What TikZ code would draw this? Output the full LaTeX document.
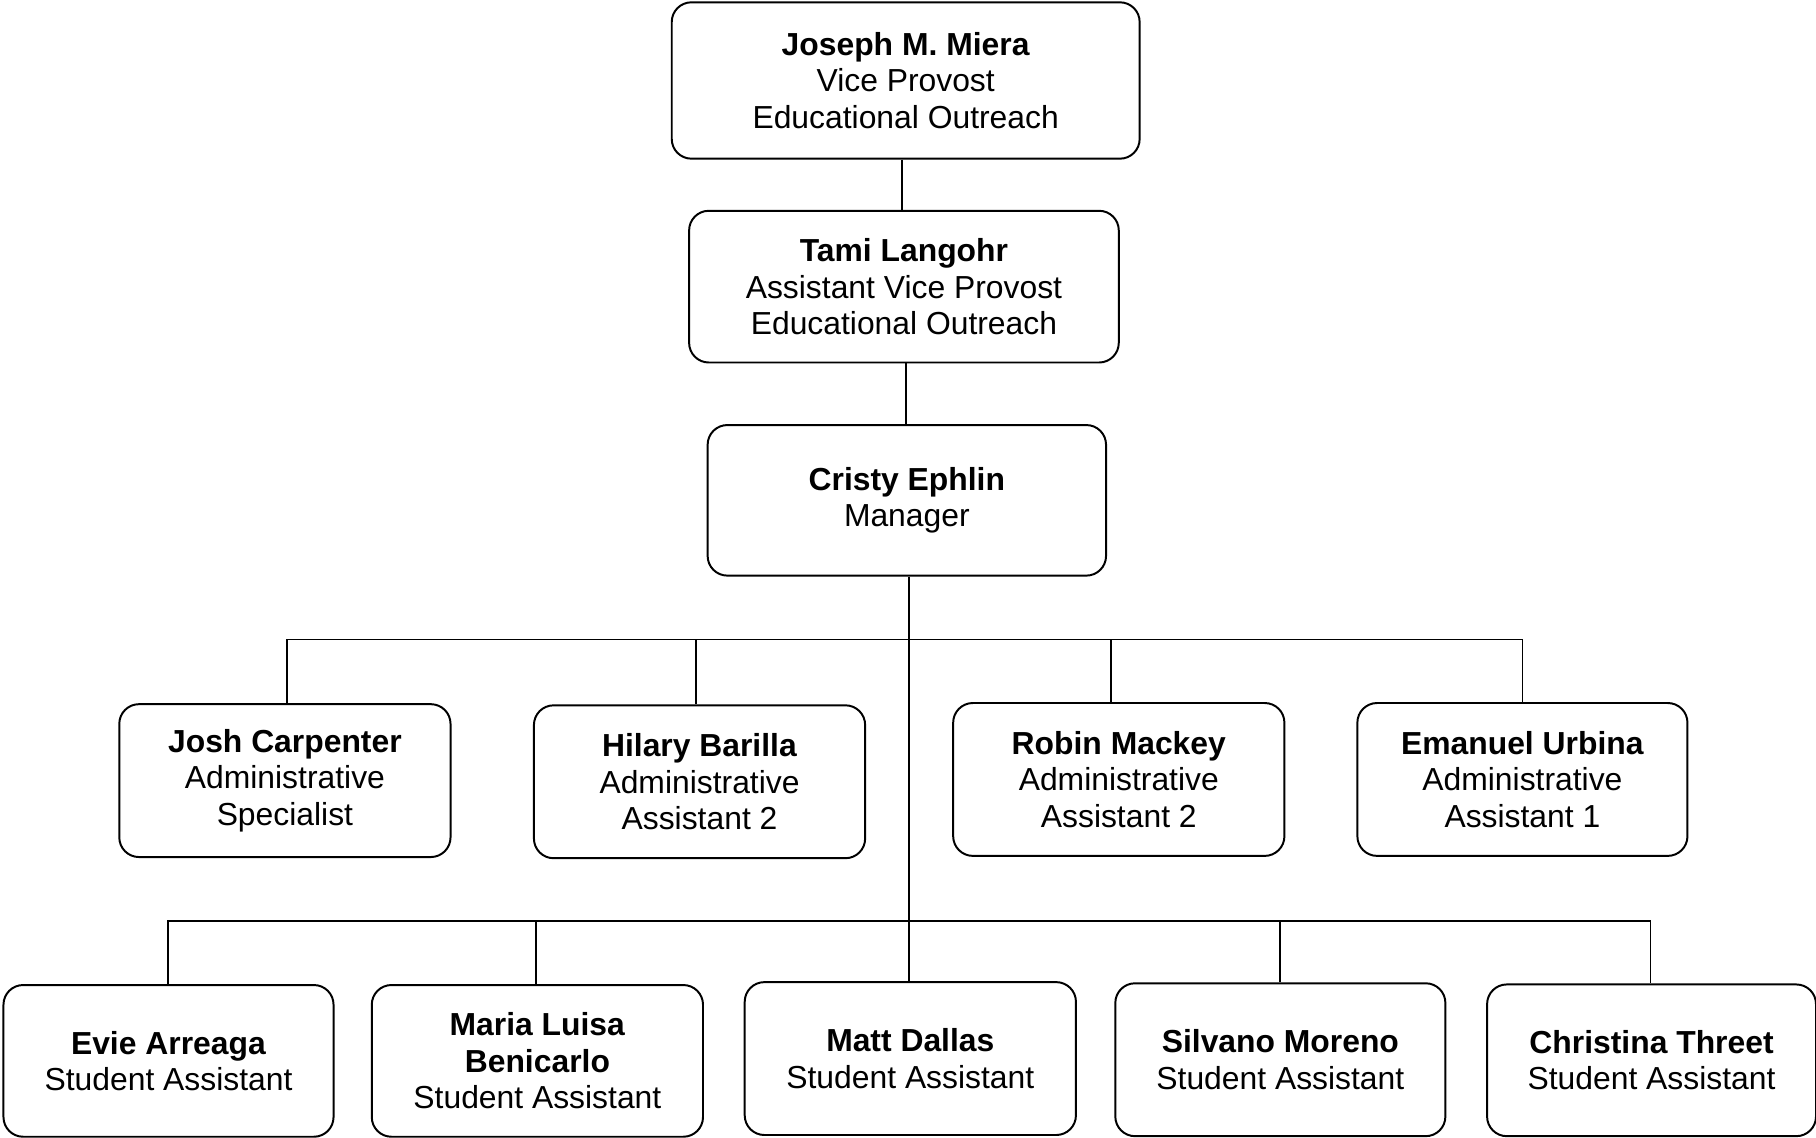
\documentclass[tikz,border=0pt]{standalone}
\usepackage{fontspec}
\setmainfont{Liberation Sans}
\begin{document}
\begin{tikzpicture}[x=1pt,y=-1pt,
  box/.style={draw, line width=1.7pt, rounded corners=17pt, align=center, inner sep=0pt,
    font=\fontsize{27.5}{31.5}\selectfont},
  conn/.style={line width=1.4pt}]
\useasboundingbox (0,0) rectangle (1568,982);
% top chain
\node[box, minimum width=404pt, minimum height=135pt] (mie) at (782,69.5) {\textbf{Joseph M. Miera}\\Vice Provost\\Educational Outreach};
\node[box, minimum width=371pt, minimum height=131pt] (lan) at (780.5,247.5) {\textbf{Tami Langohr}\\Assistant Vice Provost\\Educational Outreach};
\node[box, minimum width=344pt, minimum height=130pt] (eph) at (783,432) {\textbf{Cristy Ephlin}\\Manager};
% row 2
\node[box, minimum width=286pt, minimum height=132pt] (car) at (246,674) {\textbf{Josh Carpenter}\\Administrative\\Specialist};
\node[box, minimum width=286pt, minimum height=132pt] (bar) at (604,675) {\textbf{Hilary Barilla}\\Administrative\\Assistant 2};
\node[box, minimum width=286pt, minimum height=132pt] (mac) at (966,673) {\textbf{Robin Mackey}\\Administrative\\Assistant 2};
\node[box, minimum width=285pt, minimum height=132pt] (urb) at (1314.5,673) {\textbf{Emanuel Urbina}\\Administrative\\Assistant 1};
% row 3
\node[box, minimum width=285pt, minimum height=131pt] (arr) at (145.5,916) {\textbf{Evie Arreaga}\\Student Assistant};
\node[box, minimum width=286pt, minimum height=131pt] (ben) at (464,916) {\textbf{Maria Luisa}\\\textbf{Benicarlo}\\Student Assistant};
\node[box, minimum width=286pt, minimum height=132pt] (dal) at (786,914) {\textbf{Matt Dallas}\\Student Assistant};
\node[box, minimum width=285pt, minimum height=132pt] (mor) at (1105.5,915) {\textbf{Silvano Moreno}\\Student Assistant};
\node[box, minimum width=284pt, minimum height=131pt] (thr) at (1426,915.5) {\textbf{Christina Threet}\\Student Assistant};
% connectors
\coordinate (b1) at (785,552);
\coordinate (b2) at (785,795);
\draw[conn] ([xshift=-3pt]mie.south) -- ([xshift=-3pt]mie.south |- lan.north);
\draw[conn] ([xshift=1.5pt]lan.north |- lan.south) -- ([xshift=1.5pt]lan.north |- eph.north);
\draw[conn] ([xshift=2pt]eph.south) -- ([xshift=2pt]eph.south |- dal.north);
\draw[conn] ([xshift=2pt]car.north) |- (b1) -| (urb.north);
\draw[conn] ([xshift=-3pt]bar.north) -- ([xshift=-3pt]bar.north |- b1);
\draw[conn] ([xshift=-7pt]mac.north) -- ([xshift=-7pt]mac.north |- b1);
\draw[conn] ([xshift=-0.5pt]arr.north) |- (b2) -| ([xshift=-1pt]thr.north);
\draw[conn] ([xshift=-1pt]ben.north) -- ([xshift=-1pt]ben.north |- b2);
\draw[conn] ([xshift=-0.5pt]mor.north) -- ([xshift=-0.5pt]mor.north |- b2);
\end{tikzpicture}
\end{document}
